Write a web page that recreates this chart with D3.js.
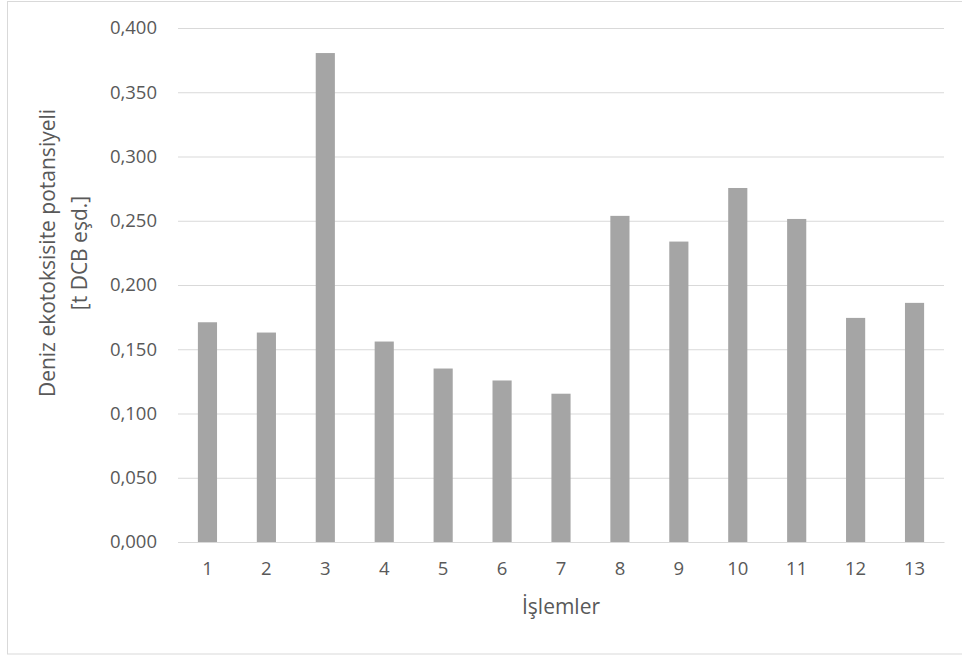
<!DOCTYPE html>
<html><head><meta charset="utf-8">
<script src="https://cdn.jsdelivr.net/npm/d3@7"></script>
<style>body{margin:0;background:#fff}svg{display:block}text{font-family:"Open Sans",sans-serif;fill:#595959}</style>
</head><body>
<script>
const categories = ["1","2","3","4","5","6","7","8","9","10","11","12","13"];
const values = [0.171,0.163,0.3805,0.156,0.135,0.1257,0.1154,0.2538,0.2338,0.2755,0.2514,0.1744,0.1861];
const yTicks = [0,0.05,0.1,0.15,0.2,0.25,0.3,0.35,0.4];
const yTitle = ["Deniz ekotoksisite potansiyeli","[t DCB eşd.]"];
const xTitle = "İşlemler";

const W=962,H=656;
const svg=d3.select("body").append("svg").attr("width",W).attr("height",H);
svg.append("rect").attr("x",7.5).attr("y",1.5).attr("width",W).attr("height",652.5)
  .attr("fill","#fff").attr("stroke","#d9d9d9").attr("stroke-width",1);

const x=d3.scaleBand().domain(categories).range([178,944]).paddingInner(0.675).paddingOuter(0.3375);
const y=d3.scaleLinear().domain([0,0.4]).range([542,28]);
const fmt=d=>d3.format(".3f")(d).replace(".",",");

const gy=svg.append("g").attr("transform","translate(178,0)")
  .call(d3.axisLeft(y).tickValues(yTicks).tickSize(-(944-178)).tickFormat(fmt));
gy.select(".domain").remove();
gy.selectAll(".tick line").attr("stroke","#d9d9d9").attr("stroke-width",1);
gy.selectAll(".tick text").attr("x",-21).style("font-size","18.5px").attr("fill","#595959");

svg.append("g").selectAll("rect").data(values).join("rect")
  .attr("x",(d,i)=>x(categories[i])).attr("width",x.bandwidth())
  .attr("y",d=>y(d)).attr("height",d=>y(0)-y(d)).attr("fill","#a5a5a5");

const gx=svg.append("g").attr("transform","translate(0,542)")
  .call(d3.axisBottom(x).tickSize(0).tickPadding(20));
gx.select(".domain").attr("stroke","#d9d9d9");
gx.selectAll(".tick text").style("font-size","18.5px").attr("fill","#595959");

svg.append("text").attr("x",561).attr("y",614).attr("text-anchor","middle").style("font-size","21px").text(xTitle);
const t=svg.append("text").attr("transform","translate(0,253) rotate(-90)").attr("text-anchor","middle").style("font-size","21px");
t.append("tspan").attr("x",0).attr("y",55).text(yTitle[0]);
t.append("tspan").attr("x",0).attr("y",87).text(yTitle[1]);
</script>
</body></html>
